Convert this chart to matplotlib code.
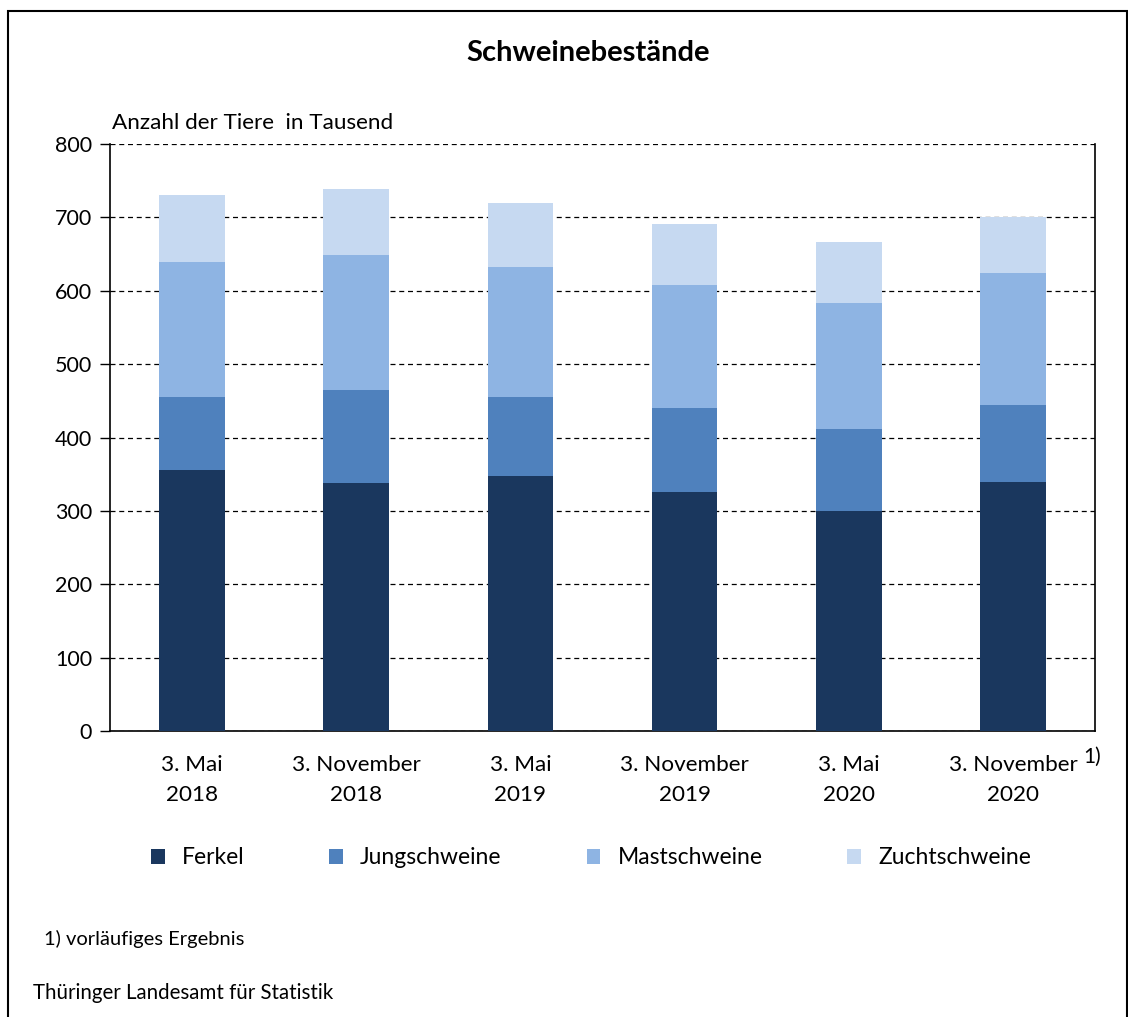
import matplotlib
matplotlib.use("Agg")
import matplotlib.pyplot as plt
import numpy as np
from matplotlib.patches import Rectangle

plt.rcParams['font.family'] = ['Lato', 'DejaVu Sans']

categories = ["3. Mai\n2018", "3. November\n2018", "3. Mai\n2019",
              "3. November\n2019", "3. Mai\n2020", "3. November\n2020"]
ferkel = [356, 338, 348, 326, 300, 339]
jung = [99, 127, 107, 114, 112, 105]
mast = [184, 184, 177, 168, 171, 180]
zucht = [91, 90, 88, 83, 83, 77]
series_names = ["Ferkel", "Jungschweine", "Mastschweine", "Zuchtschweine"]
colors = ["#1a375e", "#4f81bd", "#8eb4e3", "#c6d9f1"]
yticks = [0, 100, 200, 300, 400, 500, 600, 700, 800]

W, H = 1128, 1017
fig = plt.figure(figsize=(W/100, H/100), dpi=100)
fig.patches.append(Rectangle((8/W, -0.01), (1127-8)/W, 1.01 - 11/H, transform=fig.transFigure,
                             fill=False, edgecolor="black", linewidth=1.5))

ax = fig.add_axes([110/W, 1-731/H, (1095-110)/W, (731-144)/H])
x = np.arange(len(categories))
bottom = np.zeros(len(categories))
for vals, name, c in zip([ferkel, jung, mast, zucht], series_names, colors):
    ax.bar(x, vals, width=0.4, bottom=bottom, color=c, label=name, zorder=3)
    bottom += np.array(vals)

ax.set_xlim(-0.5, len(categories) - 0.5)
ax.set_ylim(0, 800)
ax.set_yticks(yticks)
ax.set_yticklabels([str(v) for v in yticks], fontsize=15.5)
ax.set_xticks(x)
ax.set_xticklabels(categories, fontsize=16.2, linespacing=1.65)
ax.tick_params(axis='x', length=0, pad=17)
ax.tick_params(axis='y', length=7, width=1, direction='out', pad=6)
ax.yaxis.grid(True, linestyle=(0, (4, 3)), color="black", linewidth=0.9, zorder=0)
ax.set_axisbelow(True)
ax.spines['top'].set_visible(False)
for s in ['left', 'right', 'bottom']:
    ax.spines[s].set_linewidth(1.2)

fig.text(1092/W, 1-757/H, "1)", fontsize=15, ha='center', va='center')
fig.text(588/W, 1-53/H, "Schweinebestände", fontsize=21, fontweight='bold', ha='center', va='center')
fig.text(112/W, 1-123/H, "Anzahl der Tiere  in Tausend", fontsize=16.2, ha='left', va='center')

handles, labels = ax.get_legend_handles_labels()
fig.legend(handles, labels, loc='center', bbox_to_anchor=(591/W, 1-858/H), ncol=4,
           frameon=False, fontsize=16.5, handlelength=0.6, handleheight=0.6,
           columnspacing=3.7, handletextpad=0.75)

fig.text(44/W, 1-939/H, "1) vorläufiges Ergebnis", fontsize=14.5, ha='left', va='center')
fig.text(33/W, 1-993/H, "Thüringer Landesamt für Statistik", fontsize=14.8, ha='left', va='center')

fig.savefig("out.png", dpi=100)
